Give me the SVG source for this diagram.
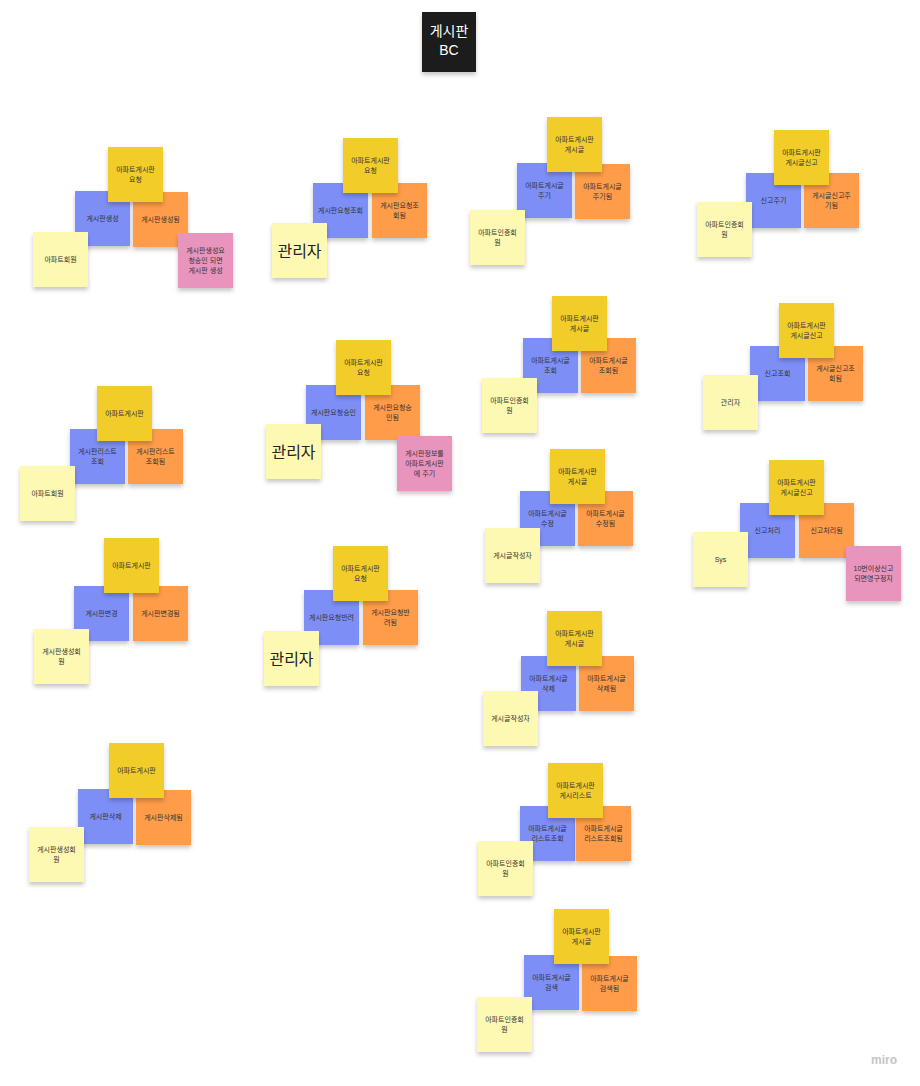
<svg xmlns="http://www.w3.org/2000/svg" width="920" height="1086" viewBox="0 0 920 1086">
<defs>
<filter id="sh" x="-20%" y="-20%" width="140%" height="150%">
<feDropShadow dx="0" dy="3" stdDeviation="2" flood-color="#000" flood-opacity="0.22"/>
</filter>
<style>
.s{filter:url(#sh)}
.gold{fill:#f2cd2c}
.blue{fill:#7d8ff7}
.orange{fill:#fe9c4a}
.ly{fill:#fef9b2}
.pink{fill:#e994bd}
.blk{fill:#1a1a1a}
text{font-family:"Liberation Sans","Noto Sans CJK KR",sans-serif;text-anchor:middle;fill:#333}
.t{font-size:7px}
.big{font-size:16px;fill:#222}
.ttl{font-size:14px;fill:#fff}
.wm{font-size:12px;font-weight:bold;fill:#c4c4c4;text-anchor:end}
</style>
</defs>
<rect width="920" height="1086" fill="#fff"/>
<g id="connectors"/>

<g id="title"><rect class="s blk" x="422" y="12" width="54" height="60"/><text class="ttl" x="449" y="36">게시판</text><text class="ttl" x="449" y="55">BC</text></g>

<!-- Cluster 1 -->
<g id="c1-blue"><rect class="s blue" x="75" y="191" width="55" height="55"/><text class="t" x="102.5" y="221">게시판생성</text></g>
<g id="c1-orange"><rect class="s orange" x="133" y="192" width="55" height="55"/><text class="t" x="160.5" y="222">게시판생성됨</text></g>
<g id="c1-gold"><rect class="s gold" x="108" y="147" width="55" height="55"/><text class="t" x="135.5" y="172">아파트게시판</text><text class="t" x="135.5" y="182">요청</text></g>
<g id="c1-actor"><rect class="s ly" x="33" y="232" width="55" height="55"/><text class="t" x="60.5" y="262">아파트회원</text></g>
<g id="c1-policy"><rect class="s pink" x="178" y="233" width="55" height="55"/><text class="t" x="205.5" y="253">게시판생성요</text><text class="t" x="205.5" y="263">청승인 되면</text><text class="t" x="205.5" y="273">게시판 생성</text></g>

<!-- Cluster 2 -->
<g id="c2-blue"><rect class="s blue" x="313" y="183" width="55" height="55"/><text class="t" x="340.5" y="213">게시판요청조회</text></g>
<g id="c2-orange"><rect class="s orange" x="372" y="183" width="55" height="55"/><text class="t" x="399.5" y="208">게시판요청조</text><text class="t" x="399.5" y="218">회됨</text></g>
<g id="c2-gold"><rect class="s gold" x="343" y="138" width="55" height="55"/><text class="t" x="370.5" y="163">아파트게시판</text><text class="t" x="370.5" y="173">요청</text></g>
<g id="c2-actor"><rect class="s ly" x="272" y="223" width="55" height="55"/><text class="big" x="299.5" y="256.5">관리자</text></g>

<!-- Cluster 3 -->
<g id="c3-blue"><rect class="s blue" x="517" y="163" width="55" height="55"/><text class="t" x="544.5" y="188">아파트게시글</text><text class="t" x="544.5" y="198">주기</text></g>
<g id="c3-orange"><rect class="s orange" x="575" y="164" width="55" height="55"/><text class="t" x="602.5" y="189">아파트게시글</text><text class="t" x="602.5" y="199">주기됨</text></g>
<g id="c3-gold"><rect class="s gold" x="547" y="117" width="55" height="55"/><text class="t" x="574.5" y="142">아파트게시판</text><text class="t" x="574.5" y="152">게시글</text></g>
<g id="c3-actor"><rect class="s ly" x="470" y="210" width="55" height="55"/><text class="t" x="497.5" y="235">아파트인증회</text><text class="t" x="497.5" y="245">원</text></g>

<!-- Cluster 4 -->
<g id="c4-blue"><rect class="s blue" x="746" y="173" width="55" height="55"/><text class="t" x="773.5" y="203">신고주기</text></g>
<g id="c4-orange"><rect class="s orange" x="804" y="173" width="55" height="55"/><text class="t" x="831.5" y="198">게시글신고주</text><text class="t" x="831.5" y="208">기됨</text></g>
<g id="c4-gold"><rect class="s gold" x="774" y="130" width="55" height="55"/><text class="t" x="801.5" y="155">아파트게시판</text><text class="t" x="801.5" y="165">게시글신고</text></g>
<g id="c4-actor"><rect class="s ly" x="697" y="202" width="55" height="55"/><text class="t" x="724.5" y="227">아파트인증회</text><text class="t" x="724.5" y="237">원</text></g>

<!-- Cluster 5 -->
<g id="c5-blue"><rect class="s blue" x="523" y="338" width="55" height="55"/><text class="t" x="550.5" y="363">아파트게시글</text><text class="t" x="550.5" y="373">조회</text></g>
<g id="c5-orange"><rect class="s orange" x="581" y="338" width="55" height="55"/><text class="t" x="608.5" y="363">아파트게시글</text><text class="t" x="608.5" y="373">조회됨</text></g>
<g id="c5-gold"><rect class="s gold" x="552" y="296" width="55" height="55"/><text class="t" x="579.5" y="321">아파트게시판</text><text class="t" x="579.5" y="331">게시글</text></g>
<g id="c5-actor"><rect class="s ly" x="482" y="378" width="55" height="55"/><text class="t" x="509.5" y="403">아파트인증회</text><text class="t" x="509.5" y="413">원</text></g>

<!-- Cluster 6 -->
<g id="c6-blue"><rect class="s blue" x="750" y="346" width="55" height="55"/><text class="t" x="777.5" y="376">신고조회</text></g>
<g id="c6-orange"><rect class="s orange" x="808" y="346" width="55" height="55"/><text class="t" x="835.5" y="371">게시글신고조</text><text class="t" x="835.5" y="381">회됨</text></g>
<g id="c6-gold"><rect class="s gold" x="779" y="303" width="55" height="55"/><text class="t" x="806.5" y="328">아파트게시판</text><text class="t" x="806.5" y="338">게시글신고</text></g>
<g id="c6-actor"><rect class="s ly" x="703" y="375" width="55" height="55"/><text class="t" x="730.5" y="405">관리자</text></g>

<!-- Cluster 7 -->
<g id="c7-blue"><rect class="s blue" x="70" y="429" width="55" height="55"/><text class="t" x="97.5" y="454">게시판리스트</text><text class="t" x="97.5" y="464">조회</text></g>
<g id="c7-orange"><rect class="s orange" x="128" y="429" width="55" height="55"/><text class="t" x="155.5" y="454">게시판리스트</text><text class="t" x="155.5" y="464">조회됨</text></g>
<g id="c7-gold"><rect class="s gold" x="97" y="386" width="55" height="55"/><text class="t" x="124.5" y="416">아파트게시판</text></g>
<g id="c7-actor"><rect class="s ly" x="20" y="466" width="55" height="55"/><text class="t" x="47.5" y="496">아파트회원</text></g>

<!-- Cluster 8 -->
<g id="c8-blue"><rect class="s blue" x="306" y="385" width="55" height="55"/><text class="t" x="333.5" y="415">게시판요청승인</text></g>
<g id="c8-orange"><rect class="s orange" x="365" y="385" width="55" height="55"/><text class="t" x="392.5" y="410">게시판요청승</text><text class="t" x="392.5" y="420">인됨</text></g>
<g id="c8-gold"><rect class="s gold" x="336" y="340" width="55" height="55"/><text class="t" x="363.5" y="365">아파트게시판</text><text class="t" x="363.5" y="375">요청</text></g>
<g id="c8-actor"><rect class="s ly" x="266" y="424" width="55" height="55"/><text class="big" x="293.5" y="457.5">관리자</text></g>
<g id="c8-policy"><rect class="s pink" x="397" y="436" width="55" height="55"/><text class="t" x="424.5" y="456">게시판정보를</text><text class="t" x="424.5" y="466">아파트게시판</text><text class="t" x="424.5" y="476">에 주기</text></g>

<!-- Cluster 9 -->
<g id="c9-blue"><rect class="s blue" x="520" y="491" width="55" height="55"/><text class="t" x="547.5" y="516">아파트게시글</text><text class="t" x="547.5" y="526">수정</text></g>
<g id="c9-orange"><rect class="s orange" x="578" y="491" width="55" height="55"/><text class="t" x="605.5" y="516">아파트게시글</text><text class="t" x="605.5" y="526">수정됨</text></g>
<g id="c9-gold"><rect class="s gold" x="550" y="449" width="55" height="55"/><text class="t" x="577.5" y="474">아파트게시판</text><text class="t" x="577.5" y="484">게시글</text></g>
<g id="c9-actor"><rect class="s ly" x="485" y="528" width="55" height="55"/><text class="t" x="512.5" y="558">게시글작성자</text></g>

<!-- Cluster 10 -->
<g id="c10-blue"><rect class="s blue" x="740" y="503" width="55" height="55"/><text class="t" x="767.5" y="533">신고처리</text></g>
<g id="c10-orange"><rect class="s orange" x="799" y="503" width="55" height="55"/><text class="t" x="826.5" y="533">신고처리됨</text></g>
<g id="c10-gold"><rect class="s gold" x="769" y="460" width="55" height="55"/><text class="t" x="796.5" y="485">아파트게시판</text><text class="t" x="796.5" y="495">게시글신고</text></g>
<g id="c10-actor"><rect class="s ly" x="693" y="532" width="55" height="55"/><text class="t" x="720.5" y="562">Sys</text></g>
<g id="c10-policy"><rect class="s pink" x="846" y="546" width="55" height="55"/><text class="t" x="873.5" y="571">10번이상신고</text><text class="t" x="873.5" y="581">되면영구정지</text></g>

<!-- Cluster 11 -->
<g id="c11-blue"><rect class="s blue" x="74" y="586" width="55" height="55"/><text class="t" x="101.5" y="616">게시판변경</text></g>
<g id="c11-orange"><rect class="s orange" x="133" y="586" width="55" height="55"/><text class="t" x="160.5" y="616">게시판변경됨</text></g>
<g id="c11-gold"><rect class="s gold" x="104" y="538" width="55" height="55"/><text class="t" x="131.5" y="568">아파트게시판</text></g>
<g id="c11-actor"><rect class="s ly" x="34" y="629" width="55" height="55"/><text class="t" x="61.5" y="654">게시판생성회</text><text class="t" x="61.5" y="664">원</text></g>

<!-- Cluster 12 -->
<g id="c12-blue"><rect class="s blue" x="304" y="590" width="55" height="55"/><text class="t" x="331.5" y="620">게시판요청반려</text></g>
<g id="c12-orange"><rect class="s orange" x="363" y="590" width="55" height="55"/><text class="t" x="390.5" y="615">게시판요청반</text><text class="t" x="390.5" y="625">려됨</text></g>
<g id="c12-gold"><rect class="s gold" x="333" y="546" width="55" height="55"/><text class="t" x="360.5" y="571">아파트게시판</text><text class="t" x="360.5" y="581">요청</text></g>
<g id="c12-actor"><rect class="s ly" x="264" y="631" width="55" height="55"/><text class="big" x="291.5" y="664.5">관리자</text></g>

<!-- Cluster 13 -->
<g id="c13-blue"><rect class="s blue" x="521" y="656" width="55" height="55"/><text class="t" x="548.5" y="681">아파트게시글</text><text class="t" x="548.5" y="691">삭제</text></g>
<g id="c13-orange"><rect class="s orange" x="579" y="656" width="55" height="55"/><text class="t" x="606.5" y="681">아파트게시글</text><text class="t" x="606.5" y="691">삭제됨</text></g>
<g id="c13-gold"><rect class="s gold" x="547" y="611" width="55" height="55"/><text class="t" x="574.5" y="636">아파트게시판</text><text class="t" x="574.5" y="646">게시글</text></g>
<g id="c13-actor"><rect class="s ly" x="483" y="691" width="55" height="55"/><text class="t" x="510.5" y="721">게시글작성자</text></g>

<!-- Cluster 14 -->
<g id="c14-blue"><rect class="s blue" x="78" y="789" width="55" height="55"/><text class="t" x="105.5" y="819">게시판삭제</text></g>
<g id="c14-orange"><rect class="s orange" x="136" y="790" width="55" height="55"/><text class="t" x="163.5" y="820">게시판삭제됨</text></g>
<g id="c14-gold"><rect class="s gold" x="109" y="743" width="55" height="55"/><text class="t" x="136.5" y="773">아파트게시판</text></g>
<g id="c14-actor"><rect class="s ly" x="29" y="827" width="55" height="55"/><text class="t" x="56.5" y="852">게시판생성회</text><text class="t" x="56.5" y="862">원</text></g>

<!-- Cluster 15 -->
<g id="c15-blue"><rect class="s blue" x="520" y="806" width="55" height="55"/><text class="t" x="547.5" y="831">아파트게시글</text><text class="t" x="547.5" y="841">리스트조회</text></g>
<g id="c15-orange"><rect class="s orange" x="576" y="806" width="55" height="55"/><text class="t" x="603.5" y="831">아파트게시글</text><text class="t" x="603.5" y="841">리스트조회됨</text></g>
<g id="c15-gold"><rect class="s gold" x="548" y="763" width="55" height="55"/><text class="t" x="575.5" y="788">아파트게시판</text><text class="t" x="575.5" y="798">게시리스트</text></g>
<g id="c15-actor"><rect class="s ly" x="478" y="841" width="55" height="55"/><text class="t" x="505.5" y="866">아파트인증회</text><text class="t" x="505.5" y="876">원</text></g>

<!-- Cluster 16 -->
<g id="c16-blue"><rect class="s blue" x="524" y="955" width="55" height="55"/><text class="t" x="551.5" y="980">아파트게시글</text><text class="t" x="551.5" y="990">검색</text></g>
<g id="c16-orange"><rect class="s orange" x="582" y="956" width="55" height="55"/><text class="t" x="609.5" y="981">아파트게시글</text><text class="t" x="609.5" y="991">검색됨</text></g>
<g id="c16-gold"><rect class="s gold" x="554" y="909" width="55" height="55"/><text class="t" x="581.5" y="934">아파트게시판</text><text class="t" x="581.5" y="944">게시글</text></g>
<g id="c16-actor"><rect class="s ly" x="477" y="997" width="55" height="55"/><text class="t" x="504.5" y="1022">아파트인증회</text><text class="t" x="504.5" y="1032">원</text></g>

<text class="wm" x="897" y="1064">miro</text>
</svg>
